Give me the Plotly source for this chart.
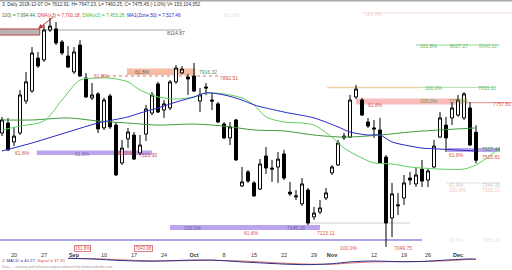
import pandas as pd
import plotly.graph_objects as go

HOLIDAYS = ["2018-11-22", "2018-12-05"]
DATES = [d.strftime("%Y-%m-%d") for d in pd.bdate_range("2018-08-16", "2018-12-07")
         if d.strftime("%Y-%m-%d") not in HOLIDAYS]
IDX = list(range(len(DATES)))

OPEN = [7609, 7658, 7565, 7609, 7766, 7815, 7977, 7968, 8115, 8120,
        8056, 7987, 7909, 8041, 7879, 7781, 7801, 7634, 7791, 7648,
        7462, 7580, 7599, 7511, 7604, 7707, 7850, 7722, 7732, 7860,
        7904, 7884, 7889, 7766, 7835, 7771, 7752, 7653, 7585, 7673,
        7349, 7418, 7364, 7334, 7496, 7437, 7442, 7506, 7319, 7295,
        7261, 7329, 7197, 7221, 7290, 7413, 7452, 7585, 7589, 7786,
        7771, 7663, 7634, 7624, 7491, 7192, 7251, 7290, 7388, 7359,
        7432, 7378, 7442, 7589, 7648, 7683, 7697, 7683, 7732, 7612.91]
HIGH = [7688, 7683, 7639, 7820, 7909, 8031, 8007, 8139, 8174, 8154,
        8066, 8036, 8031, 8066, 7904, 7855, 7810, 7781, 7801, 7663,
        7575, 7634, 7614, 7599, 7747, 7810, 7860, 7771, 7869, 7943,
        7938, 7899, 7953, 7830, 7855, 7806, 7761, 7663, 7663, 7678,
        7442, 7427, 7373, 7481, 7540, 7477, 7516, 7526, 7369, 7329,
        7388, 7339, 7246, 7280, 7339, 7452, 7575, 7609, 7796, 7845,
        7781, 7683, 7673, 7683, 7501, 7364, 7315, 7403, 7418, 7437,
        7477, 7432, 7575, 7712, 7688, 7761, 7796, 7810, 7761, 7647.23]
LOW = [7594, 7521, 7545, 7599, 7752, 7806, 7928, 7958, 8105, 8041,
       7992, 7928, 7899, 7884, 7781, 7771, 7609, 7624, 7629, 7398,
       7452, 7535, 7477, 7501, 7570, 7697, 7707, 7683, 7722, 7850,
       7899, 7796, 7810, 7712, 7796, 7722, 7658, 7580, 7550, 7472,
       7344, 7364, 7295, 7329, 7408, 7369, 7364, 7378, 7300, 7280,
       7251, 7157, 7182, 7211, 7280, 7403, 7447, 7575, 7585, 7776,
       7693, 7634, 7585, 7457, 7049.75, 7098, 7206, 7256, 7354, 7344,
       7344, 7344, 7437, 7585, 7516, 7648, 7688, 7673, 7545, 7460.25]
CLOSE = [7673, 7526, 7594, 7796, 7860, 8002, 7938, 8115, 8134, 8051,
         8002, 7933, 8007, 7889, 7786, 7796, 7629, 7771, 7639, 7403,
         7535, 7614, 7481, 7550, 7727, 7796, 7712, 7752, 7860, 7928,
         7923, 7874, 7815, 7796, 7830, 7766, 7663, 7585, 7639, 7477,
         7369, 7373, 7300, 7457, 7437, 7432, 7481, 7388, 7310, 7300,
         7359, 7167, 7216, 7241, 7315, 7442, 7560, 7594, 7771, 7825,
         7697, 7643, 7629, 7462, 7167, 7310, 7256, 7364, 7378, 7403,
         7373, 7423, 7545, 7683, 7585, 7732, 7771, 7801, 7550, 7475.45]

# moving averages (sampled along the drawn curves)
SMA100_X = [0, 5, 11, 16, 21, 26, 32, 37, 42, 47, 52, 57, 63, 68, 73, 79]
SMA100 = [7673, 7673, 7683, 7668, 7658, 7648, 7653, 7643, 7624, 7619,
          7599, 7589, 7599, 7614, 7624, 7634]
DMA2_X = [0, 3, 7, 10, 13, 16, 18, 21, 23, 26, 29, 32, 34, 35, 37, 40, 42,
          44, 47, 50, 52, 55, 57, 60, 62, 65, 68, 70, 73, 77, 79, 81, 83]
DMA2 = [7624, 7643, 7668, 7771, 7869, 7879, 7879, 7860, 7820, 7786, 7776,
        7786, 7806, 7806, 7801, 7781, 7747, 7688, 7663, 7658, 7648, 7589,
        7535, 7486, 7462, 7457, 7442, 7437, 7432, 7432, 7452, 7491, 7535]
MA50_X = [0, 5, 11, 16, 21, 23, 26, 29, 32, 34, 37, 40, 42, 47, 52, 56,
          58, 61, 63, 65, 68, 70, 73, 79]
MA50 = [7521, 7560, 7614, 7658, 7688, 7707, 7732, 7761, 7786, 7806, 7796,
        7771, 7747, 7712, 7683, 7639, 7614, 7599, 7599, 7565, 7545, 7535,
        7530, 7521]

MACD_X = [11, 15, 20, 25, 30, 35, 40, 45, 50, 55, 58, 62, 66, 70, 74, 78, 79]
MACD = [60, 45, 10, -5, 15, 20, -20, -55, -80, -60, -20, 0, -15, -10, 20, 45, 40.27]
SIGNAL = [55, 50, 25, 5, 5, 15, 0, -35, -65, -70, -45, -20, -15, -12, 5, 35, 37.35]

TICK_DATES = ["2018-08-20", "2018-08-27", "2018-09-03", "2018-09-10", "2018-09-17",
              "2018-09-24", "2018-10-01", "2018-10-08", "2018-10-15", "2018-10-22",
              "2018-10-29", "2018-11-01", "2018-11-12", "2018-11-19", "2018-11-26",
              "2018-12-03"]
TICK_TEXT = ["20", "27", "<b>Sep</b>", "10", "17", "24", "<b>Oct</b>", "8", "15",
             "22", "29", "<b>Nov</b>", "12", "19", "26", "<b>Dec</b>"]
TICK_VALS = [DATES.index(d) for d in TICK_DATES]

FONT = "Liberation Sans, Arial, sans-serif"

fig = go.Figure()

fig.add_trace(go.Scatter(x=SMA100_X, y=SMA100, mode="lines",
                         line=dict(color="#3f9a3f", width=1, shape="spline", smoothing=0.8),
                         showlegend=False, hoverinfo="skip"))
fig.add_trace(go.Scatter(x=DMA2_X, y=DMA2, mode="lines",
                         line=dict(color="#62d062", width=1, shape="spline", smoothing=0.8),
                         showlegend=False, hoverinfo="skip"))
fig.add_trace(go.Scatter(x=MA50_X, y=MA50, mode="lines",
                         line=dict(color="#2a2ac8", width=1, shape="spline", smoothing=0.8),
                         showlegend=False, hoverinfo="skip"))

fig.add_trace(go.Candlestick(
    x=IDX, open=OPEN, high=HIGH, low=LOW, close=CLOSE,
    increasing=dict(line=dict(color="#000000", width=1), fillcolor="#ffffff"),
    decreasing=dict(line=dict(color="#000000", width=1), fillcolor="#000000"),
    whiskerwidth=0, showlegend=False, hoverinfo="skip"))

fig.add_trace(go.Scatter(x=MACD_X, y=SIGNAL, mode="lines", xaxis="x2", yaxis="y2",
                         line=dict(color="#e07070", width=1, shape="spline"),
                         showlegend=False, hoverinfo="skip"))
fig.add_trace(go.Scatter(x=MACD_X, y=MACD, mode="lines", xaxis="x2", yaxis="y2",
                         line=dict(color="#30308a", width=1, shape="spline"),
                         showlegend=False, hoverinfo="skip"))

shapes = []


def rect(x0, x1, y0, y1, fill, line="rgba(0,0,0,0)", lw=0):
    shapes.append(dict(type="rect", xref="x", yref="y", x0=x0, x1=x1, y0=y0, y1=y1,
                       fillcolor=fill, line=dict(color=line, width=lw), layer="below"))


def hline(x0, x1, y, color, width=1, dash="solid"):
    shapes.append(dict(type="line", xref="x", yref="y", x0=x0, x1=x1, y0=y, y1=y,
                       line=dict(color=color, width=width, dash=dash), layer="below"))


# top frame line
shapes.append(dict(type="line", xref="paper", yref="paper", x0=0, x1=1, y0=0.998, y1=0.998,
                   line=dict(color="#a8a8a8", width=2)))
rect(-0.4, 6.3, 8090, 8120, "#b8b4b4", "#c04040", 1)
hline(7.2, 30, 8114.87, "#a8a8a8")
rect(20.8, 32.2, 7894, 7926, "rgba(243,170,140,0.8)")
hline(16.5, 36, 7889, "#e07070", 1, "dot")
hline(69, 83, 8041, "#9ad49a")
hline(60, 86, 8198, "rgba(240,190,190,0.5)")
hline(54.2, 69.7, 7833, "#f0d2a8", 1.5)
hline(69.7, 82.2, 7833, "#b0dcb0")
rect(59, 77.6, 7749, 7778.5, "rgba(245,165,165,0.75)")
hline(77.6, 86, 7757.81, "#f09090")
rect(5.8, 25, 7501, 7523, "#bba6ee")
rect(74.2, 83, 7516, 7535, "#bba6ee")
rect(28, 53, 7133, 7157, "#bba6ee")
hline(50.5, 68, 7167, "#cfcfcf")
hline(74, 83, 7364, "#e0e0e0")
hline(-0.4, 70, 7084, "#aca4ea", 2)

LABELS = [
    ("8114.87", 27.2, 8100, "#555555"),
    ("61.8%", 21.8, 7909, "#666666"),
    ("7916.32", 32.5, 7909, "#5a8a5a"),
    ("61.8%", 15, 7889, "#e05050"),
    ("7892.51", 36, 7879, "#e05050"),
    ("161.8%", 69.3, 8036, "#5cb85c"),
    ("8037.27", 74.3, 8036, "#5cb85c"),
    ("8045.22", 79.2, 8036, "#7cc87c"),
    ("161.8%", 60.2, 8193, "rgba(230,150,150,0.5)"),
    ("161.8%", 36.5, 8188, "rgba(200,200,200,0.5)"),
    ("100.0%", 70.2, 7830, "#5cb85c"),
    ("7833.12", 79, 7830, "#5cb85c"),
    ("100.0%", 69.3, 7766, "#6a9a3a"),
    ("7778.96", 74.2, 7766, "#6a9a3a"),
    ("7757.81", 81.5, 7751, "#e05050"),
    ("61.8%", 60.7, 7746, "#e05050"),
    ("61.8%", 1.8, 7511, "#e05050"),
    ("61.8%", 11.8, 7506, "#7a6a9a"),
    ("61.8%", 19, 7511, "#e05050"),
    ("7525.30", 22.5, 7501, "#c04060"),
    ("61.8%", 74.2, 7501, "#e05050"),
    ("7537.44", 79.7, 7530, "#3a8a3a"),
    ("7515.81", 79.7, 7491, "#e05050"),
    ("61.8%", 74.2, 7354, "#c8c8c8"),
    ("7364.35", 79.7, 7354, "#c8c8c8"),
    ("100.0%", 74.2, 7329, "#f4c4c4"),
    ("7335.12", 79.7, 7329, "#f4c4c4"),
    ("100.0%", 30, 7143, "#6a5a9a"),
    ("7145.05", 47.2, 7143, "#6a5a9a"),
    ("61.8%", 40, 7118, "#e05050"),
    ("7123.11", 52.2, 7118, "#e05050"),
    ("100.0%", 56, 7046, "#e05050"),
    ("7049.75", 65, 7046, "#e05050"),
    ("61.8%", 74.2, 7084, "#e4e4e4"),
    ("7085.21", 79.7, 7084, "#e4e4e4"),
]

annotations = []
for text, x, y, color in LABELS:
    annotations.append(dict(text=text, x=x, y=y, xref="x", yref="y", xanchor="left",
                            yanchor="middle", showarrow=False,
                            font=dict(size=5, color=color, family=FONT)))
for text, x in [("161.8%", 12), ("7043.98", 22)]:
    annotations.append(dict(text=text, x=x, y=7044, xref="x", yref="y", xanchor="left",
                            yanchor="middle", showarrow=False, bordercolor="#e08080",
                            borderwidth=1, borderpad=0,
                            font=dict(size=4.5, color="#e05050", family=FONT)))

# red arrow at the top-left
annotations.append(dict(x=6, y=8120, xref="x", yref="y", ax=8.8, ay=8184, axref="x",
                        ayref="y", showarrow=True, arrowhead=2, arrowsize=1, arrowwidth=1,
                        arrowcolor="#c83030", text=""))

# header
annotations.append(dict(
    text="3. Daily 2018-12-07 O= 7612.91, H= 7647.23, L= 7460.25, C= 7475.45 (-1.0%) V= 153,104,352",
    x=0, y=1 - 4 / 270, xref="paper", yref="paper", xanchor="left", yanchor="middle",
    showarrow=False, font=dict(size=4.7, color="#333333", family=FONT)))
annotations.append(dict(
    text=("<span style='color:#3a7a3a'>100) = 7,694.44, </span>"
          "<span style='color:#e04040'>DMA(x3) = 7,700.18, </span>"
          "<span style='color:#40c040'>DMA(x2) = 7,453.28, </span>"
          "<span style='color:#2a2ac8'>MA1(Zone,50) = 7,517.46</span>"),
    x=0, y=1 - 15.5 / 270, xref="paper", yref="paper", xanchor="left", yanchor="middle",
    showarrow=False, font=dict(size=4.7, color="#333333", family=FONT)))
annotations.append(dict(
    text=("<span style='color:#30308a'>J. MACD = 40.27, </span>"
          "<span style='color:#e05050'>Signal = 37.35</span>"),
    x=0, y=1 - 260.8 / 270, xref="paper", yref="paper", xanchor="left", yanchor="middle",
    showarrow=False, font=dict(size=4.3, family=FONT)))
annotations.append(dict(
    text="Data - ... charting and technical analysis software http://www.amibroker.com",
    x=0, y=1 - 267.3 / 270, xref="paper", yref="paper", xanchor="left", yanchor="middle",
    showarrow=False, font=dict(size=3.3, color="#999999", family=FONT)))

fig.update_layout(
    width=512, height=270, margin=dict(l=0, r=0, t=0, b=0),
    paper_bgcolor="white", plot_bgcolor="white",
    showlegend=False, shapes=shapes, annotations=annotations,
    xaxis=dict(range=[-0.333, 85], domain=[0, 1], anchor="y", showgrid=False,
               zeroline=False, showline=False, ticks="", tickvals=TICK_VALS,
               ticktext=TICK_TEXT, tickfont=dict(size=5.5, color="#333333", family=FONT),
               rangeslider=dict(visible=False), fixedrange=True),
    yaxis=dict(range=[7034.6, 8262.1], domain=[1 - 250 / 270, 1], showgrid=False,
               zeroline=False, showticklabels=False, showline=False, fixedrange=True),
    xaxis2=dict(range=[-0.333, 85], domain=[0, 1], anchor="y2", showgrid=False,
                zeroline=False, showticklabels=False, showline=False, matches="x"),
    yaxis2=dict(range=[-110, 110], domain=[1 - 266 / 270, 1 - 256 / 270], showgrid=False,
                zeroline=False, showticklabels=False, showline=False),
)

fig.write_html("out.html")
